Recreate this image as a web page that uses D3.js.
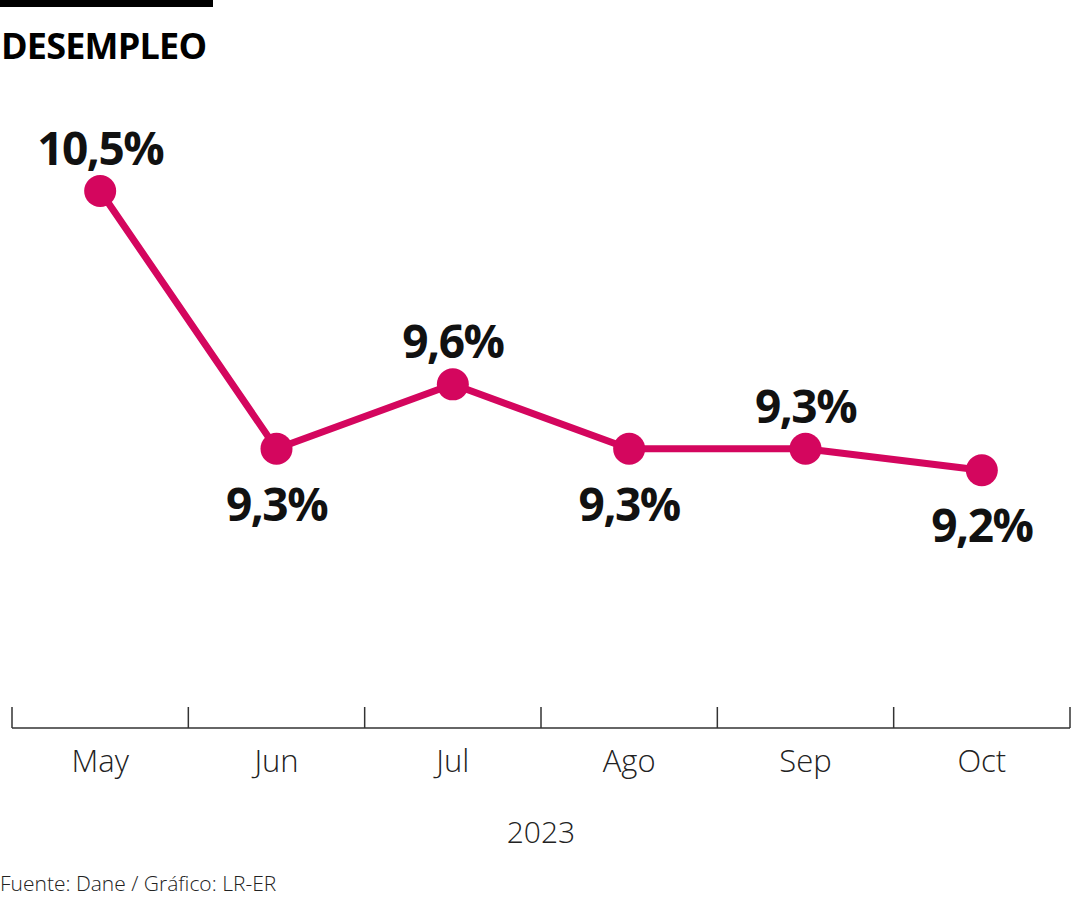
<!DOCTYPE html>
<html>
<head>
<meta charset="utf-8">
<script src="https://cdn.jsdelivr.net/npm/d3@7"></script>
<style>
  body { margin: 0; background: #fff; }
  svg { display: block; font-family: "Open Sans", sans-serif; }
</style>
</head>
<body>
<div id="chart"></div>
<script>
let wSvg = 1080; let hSvg = 900;
let lineColor = "#d4065e";

// datos
const months = ["May", "Jun", "Jul", "Ago", "Sep", "Oct"];
const values = [10.5, 9.3, 9.6, 9.3, 9.3, 9.2];
const labelSide = ["up", "down", "up", "down", "up", "down"];
const yearLabel = "2023";

const data = months.map((m, i) => ({ month: m, value: values[i], side: labelSide[i] }));

let svg = d3.select("#chart")
    .append("svg")
    .attr("width", wSvg)
    .attr("height", hSvg);

// barra y titulo
svg.append("rect")
    .attr("x", 0).attr("y", 0)
    .attr("width", 213).attr("height", 7)
    .attr("fill", "#000");

svg.append("text")
    .attr("x", 1).attr("y", 59)
    .style("font-size", "36px")
    .style("font-weight", 700)
    .style("letter-spacing", "-0.8px")
    .text("DESEMPLEO");

const xScale = d3.scaleBand()
    .domain(months)
    .range([12, 1070]);

const yScale = d3.scaleLinear()
    .domain([8, 10.5])
    .range([728, 191]);

// eje
const axis = svg.append("g")
    .attr("transform", `translate(0, 728)`);

axis.append("line")
    .attr("x1", 12).attr("x2", 1070)
    .attr("stroke", "#333").attr("stroke-width", 1.5);

const boundaries = months.map(m => xScale(m)).concat([xScale.range()[1]]);
axis.selectAll("line.tick")
    .data(boundaries)
    .enter()
    .append("line")
    .attr("class", "tick")
    .attr("x1", d => d).attr("x2", d => d)
    .attr("y1", -21).attr("y2", 0)
    .attr("stroke", "#333").attr("stroke-width", 1.5);

axis.selectAll("text")
    .data(months)
    .enter()
    .append("text")
    .attr("x", d => xScale(d) + xScale.bandwidth() / 2)
    .attr("y", 44)
    .attr("text-anchor", "middle")
    .style("font-size", "31px")
    .style("font-weight", 300)
    .attr("fill", "#222")
    .text(d => d);

svg.append("text")
    .attr("x", (xScale.range()[0] + xScale.range()[1]) / 2)
    .attr("y", 843)
    .attr("text-anchor", "middle")
    .style("font-size", "30px")
    .style("font-weight", 300)
    .attr("fill", "#222")
    .text(yearLabel);

svg.append("text")
    .attr("x", 0).attr("y", 891)
    .style("font-size", "21px")
    .style("font-weight", 300)
    .attr("fill", "#222")
    .text("Fuente: Dane / Gráfico: LR-ER");

// linea
const lineGenerator = d3.line()
    .x(d => xScale(d.month) + xScale.bandwidth() / 2)
    .y(d => yScale(d.value));

svg.append("path")
    .datum(data)
    .attr("fill", "none")
    .attr("stroke", lineColor)
    .attr("stroke-width", 7)
    .attr("stroke-linejoin", "round")
    .attr("d", lineGenerator);

svg.append("g")
    .selectAll("circle")
    .data(data)
    .enter()
    .append("circle")
    .attr("cx", d => xScale(d.month) + xScale.bandwidth() / 2)
    .attr("cy", d => yScale(d.value))
    .attr("r", 16)
    .attr("fill", lineColor);

const fmt = v => v.toFixed(1).replace(".", ",") + "%";

svg.append("g")
    .selectAll("text")
    .data(data)
    .enter()
    .append("text")
    .attr("x", d => xScale(d.month) + xScale.bandwidth() / 2)
    .attr("y", d => yScale(d.value) + (d.side === "up" ? -26 : 72))
    .attr("text-anchor", "middle")
    .style("font-size", "46px")
    .style("font-weight", 700)
    .style("letter-spacing", "-1.5px")
    .attr("fill", "#111")
    .text(d => fmt(d.value));
</script>
</body>
</html>
